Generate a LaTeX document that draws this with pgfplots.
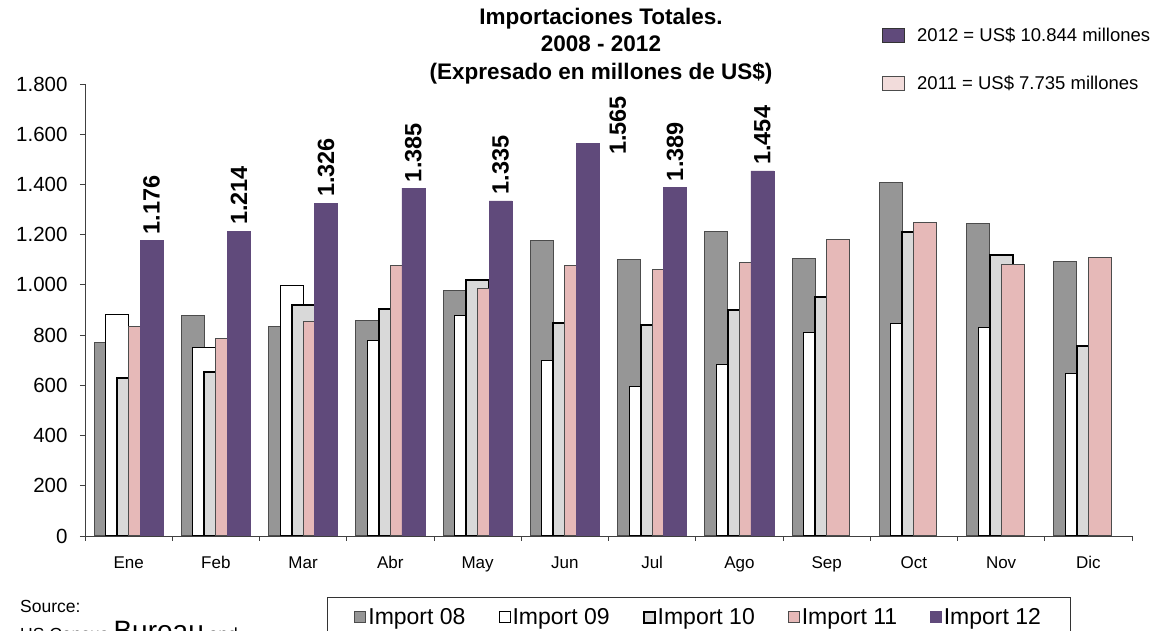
\documentclass[border=0pt]{standalone}
\usepackage{fontspec}
\setmainfont{Liberation Sans}
\usepackage{pgfplots}
\pgfplotsset{compat=1.18}
\usepackage{pgfplotstable}

\definecolor{g08}{HTML}{969696}
\definecolor{g10}{HTML}{D9D9D9}
\definecolor{p11}{HTML}{E6B9B8}
\definecolor{v12}{HTML}{604A7B}
\definecolor{p11l}{HTML}{F2DCDB}

% x: 0 = Ene ... 11 = Dic
\pgfplotstableread{
x y
0 770
1 877
2 836
3 859
4 976
5 1178
6 1102
7 1211
8 1107
9 1406
10 1243
11 1092
}\impA
\pgfplotstableread{
x y
0 883
1 751
2 997
3 779
4 877
5 700
6 597
7 681
8 812
9 846
10 830
11 648
}\impB
\pgfplotstableread{
x y
0 630
1 653
2 919
3 903
4 1021
5 848
6 839
7 899
8 952
9 1210
10 1119
11 755
}\impC
\pgfplotstableread{
x y
0 836
1 785
2 855
3 1079
4 985
5 1079
6 1061
7 1088
8 1182
9 1248
10 1083
11 1111
}\impD
\pgfplotstableread{
x y
0 1176
1 1214
2 1326
3 1385
4 1335
5 1565
6 1389
7 1454
}\impE
\pgfplotstableread{
x y
0 1176
1 1214
2 1326
3 1385
4 1335
6 1389
7 1454
}\labE
\pgfplotstableread{
x y
5 1565
}\labJun

\begin{document}
\begin{tikzpicture}[x=1pt,y=1pt]
\begin{axis}[
  at={(85pt,95pt)}, anchor=south west,
  scale only axis, width=1047pt, height=452pt,
  xmin=-0.5, xmax=11.5, ymin=0, ymax=1800,
  axis x line=bottom, axis y line=left,
  axis line style={black!75,-},
  xtick={0,...,11},
  xticklabels={Ene,Feb,Mar,Abr,May,Jun,Jul,Ago,Sep,Oct,Nov,Dic},
  major x tick style={draw=none},
  minor xtick={-0.5,0.5,...,11.5},
  ytick={0,200,...,1800},
  tick align=outside, major tick length=5pt, minor tick length=5pt,
  tick style={black!75, line width=0.8pt},
  /pgf/number format/1000 sep={.},
  /pgf/number format/assume math mode=true,
  yticklabel style={font=\fontsize{20.5}{20.5}\selectfont, xshift=-9pt},
  xticklabel style={font=\fontsize{17}{17}\selectfont, yshift=-12pt},
  legend cell align=left,
  legend image code/.code={\draw[#1] (0pt,-5.5pt) rectangle (11pt,5.5pt);},
  legend style={at={(0.2311,-0.135)}, anchor=north west, legend columns=5,
    draw=black!80, line width=0.8pt, inner xsep=27pt, inner ysep=9pt,
    font=\fontsize{23}{23}\selectfont,
    /tikz/every even column/.append style={column sep=31pt}},
]
\addplot[ybar, bar width=0.264, bar shift=-0.264, fill=g08, draw=black!70, line width=1pt] table[x=x,y=y]{\impA};
\addlegendentry{Import 08}
\addplot[ybar, bar width=0.264, bar shift=-0.132, fill=white, draw=black, line width=1pt] table[x=x,y=y]{\impB};
\addlegendentry{Import 09}
\addplot[ybar, bar width=0.264, bar shift=0, fill=g10, draw=black, line width=2pt] table[x=x,y=y]{\impC};
\addlegendentry{Import 10}
\addplot[ybar, bar width=0.264, bar shift=0.132, fill=p11, draw=black!70, line width=1pt] table[x=x,y=y]{\impD};
\addlegendentry{Import 11}
\addplot[ybar, bar width=0.264, bar shift=0.264, fill=v12, draw=v12, line width=0.5pt] table[x=x,y=y]{\impE};
\addlegendentry{Import 12}
% value labels
\addplot[ybar, bar width=0.264, bar shift=0.264, draw=none, fill=none, forget plot,
  nodes near coords,
  every node near coord/.append style={font=\bfseries\fontsize{23.5}{23.5}\selectfont, xshift=23pt, yshift=2pt, rotate=90, anchor=west, inner sep=4pt}]
  table[x=x,y=y]{\labE};
\addplot[ybar, bar width=0.264, bar shift=0.264, draw=none, fill=none, forget plot,
  nodes near coords,
  every node near coord/.append style={font=\bfseries\fontsize{23.5}{23.5}\selectfont, xshift=53pt, yshift=-16pt, rotate=90, anchor=west, inner sep=4pt}]
  table[x=x,y=y]{\labJun};
\end{axis}

% title
\node[align=center, font=\bfseries\fontsize{22.5}{27.5}\selectfont] at (601pt,585pt)
  {Importaciones Totales.\\2008 - 2012\\(Expresado en millones de US\$)};

% totals legend
\draw[black!80, line width=0.8pt, fill=v12] (882pt,589pt) rectangle (904pt,603pt);
\node[anchor=west, font=\fontsize{18.5}{18.5}\selectfont, inner sep=0pt] at (917pt,596pt) {2012 = US\$ 10.844 millones};
\draw[black!70, line width=0.8pt, fill=p11l] (882pt,541pt) rectangle (904pt,555pt);
\node[anchor=west, font=\fontsize{18.5}{18.5}\selectfont, inner sep=0pt] at (917pt,548pt) {2011 = US\$ 7.735 millones};

% source
\node[anchor=base west, font=\fontsize{17.5}{17.5}\selectfont, inner sep=0pt] at (20pt,18pt) {Source:};
\node[anchor=base west, font=\fontsize{17.5}{17.5}\selectfont, inner sep=0pt] at (20pt,-10pt)
  {US Census {\fontsize{28}{28}\selectfont Bureau} and};

\pgfresetboundingbox
\useasboundingbox (0pt,0pt) rectangle (1161pt,631pt);
\end{tikzpicture}
\end{document}
